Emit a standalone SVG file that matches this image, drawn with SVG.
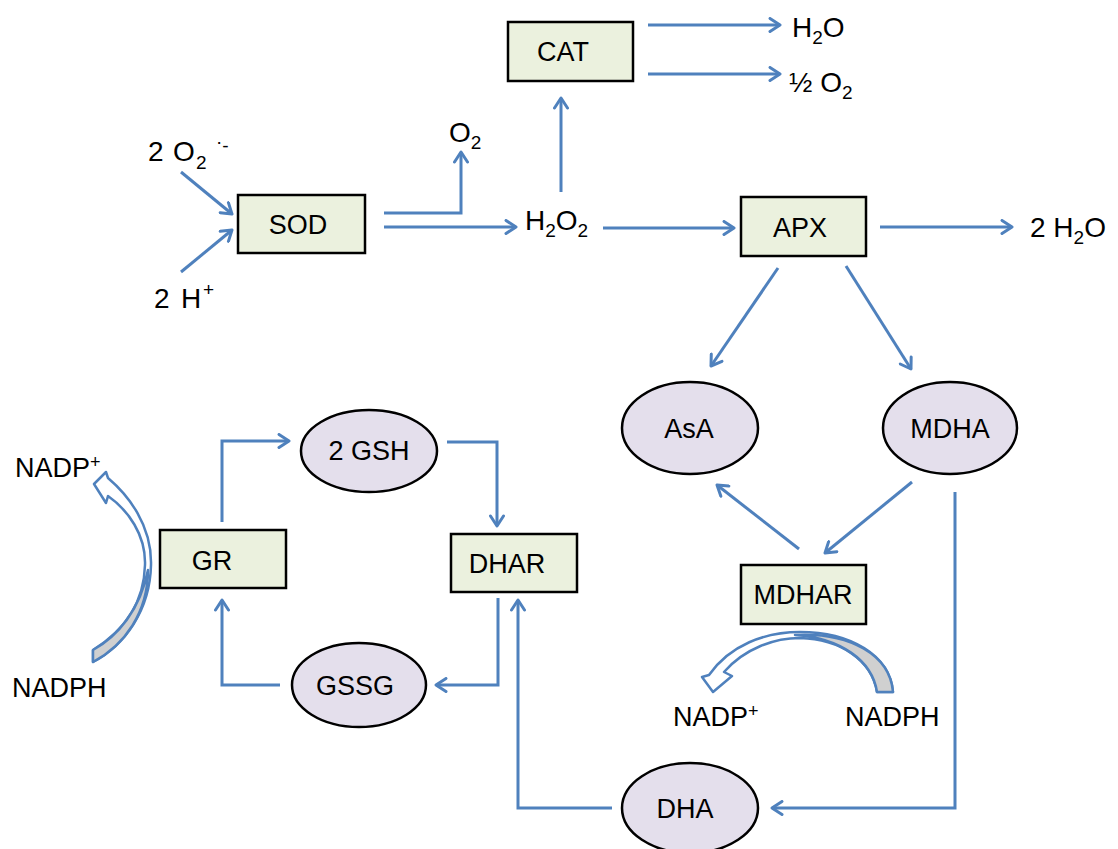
<svg xmlns="http://www.w3.org/2000/svg" width="1118" height="849" viewBox="0 0 1118 849">
<defs>
<style>
.box{fill:#ebf1de;stroke:#000;stroke-width:2.5}
.ell{fill:#e4dfec;stroke:#000;stroke-width:2.5}
.nl{font-family:"Liberation Sans",Arial,sans-serif;font-size:27px;fill:#000;text-anchor:middle}
.lb{font-family:"Liberation Sans",Arial,sans-serif;font-size:28px;fill:#000}
.nad{font-family:"Liberation Sans",Arial,sans-serif;font-size:27px;fill:#000}
.c{fill:none;stroke:#4f81bd;stroke-width:3;marker-end:url(#ah)}
.cv{fill:#fff;stroke:#4f81bd;stroke-width:2.5;stroke-linejoin:round}
.cg{fill:#d0d0d0;stroke:#4f81bd;stroke-width:2.5;stroke-linejoin:round}
</style>
<marker id="ah" viewBox="-12 -8 14 16" refX="0" refY="0" markerWidth="14" markerHeight="16" markerUnits="userSpaceOnUse" orient="auto">
<path d="M-10,-6.5 L0,0 L-10,6.5" fill="none" stroke="#4f81bd" stroke-width="3" stroke-linecap="round" stroke-linejoin="round"/>
</marker>
</defs>
<rect width="1118" height="849" fill="#fff"/>

<g id="connectors">
<path class="c" d="M181,172 L232,214"/>
<path class="c" d="M181,272 L232,230"/>
<path class="c" d="M384,213 L461,213 L461,152"/>
<path class="c" d="M384,227 L516,227"/>
<path class="c" d="M561,192 L561,98"/>
<path class="c" d="M648,25 L780,25"/>
<path class="c" d="M648,74 L780,74"/>
<path class="c" d="M603,228 L734,228"/>
<path class="c" d="M880,227 L1012,227"/>
<path class="c" d="M778,268 L711,366"/>
<path class="c" d="M846,266 L911,369"/>
<path class="c" d="M799,549 L717,485"/>
<path class="c" d="M912,482 L825,553"/>
<path class="c" d="M955,492 L955,808 L772,808"/>
<path class="c" d="M612,808 L518,808 L518,600"/>
<path class="c" d="M498,598 L498,685 L436,685"/>
<path class="c" d="M280,685 L222,685 L222,600"/>
<path class="c" d="M222,522 L222,441 L289,441"/>
<path class="c" d="M447,442 L497,442 L497,526"/>
</g>

<g id="gr-cofactor-arrow">
<path class="cv" d="M94,484 L106,472 L108,478 C128,495 152,525 151,565 C150,610 125,645 93,662 L93,650 C122,632 144,605 145,565 C146,535 128,510 108,496 L106,503 Z"/>
<path class="cg" d="M93,650 C118,636 140,610 148,570 C148,612 125,645 93,662 Z"/>
</g>

<g id="mdhar-cofactor-arrow">
<path class="cv" d="M702,677 L713,692 L732,676 L724,672 C745,648 775,638 800,638 C840,639 872,660 877,692 L893,692 C890,655 850,632 800,632 C765,632 730,645 709,675 Z"/>
<path class="cg" d="M795,635 C840,638 872,660 877,692 L893,692 C890,655 850,632 795,635 Z"/>
</g>

<g id="CAT"><rect class="box" x="508" y="22" width="125" height="59"/><text class="nl" x="563" y="61">CAT</text></g>
<g id="SOD"><rect class="box" x="238" y="195" width="127" height="58"/><text class="nl" x="298" y="234">SOD</text></g>
<g id="APX"><rect class="box" x="741" y="197" width="125" height="59"/><text class="nl" x="800" y="237">APX</text></g>
<g id="GR"><rect class="box" x="160" y="530" width="126" height="58"/><text class="nl" x="212" y="570">GR</text></g>
<g id="DHAR"><rect class="box" x="451" y="534" width="126" height="58"/><text class="nl" x="507" y="573">DHAR</text></g>
<g id="MDHAR"><rect class="box" x="741" y="565" width="125" height="59"/><text class="nl" x="803" y="604">MDHAR</text></g>

<g id="GSH"><ellipse class="ell" cx="369" cy="451" rx="68" ry="41"/><text class="nl" x="369" y="460">2 GSH</text></g>
<g id="GSSG"><ellipse class="ell" cx="359" cy="685" rx="67" ry="42"/><text class="nl" x="355" y="695">GSSG</text></g>
<g id="AsA"><ellipse class="ell" cx="690" cy="428" rx="68" ry="46"/><text class="nl" x="689" y="438">AsA</text></g>
<g id="MDHA"><ellipse class="ell" cx="950" cy="428" rx="67" ry="46"/><text class="nl" x="950" y="438">MDHA</text></g>
<g id="DHA"><ellipse class="ell" cx="690" cy="808" rx="68" ry="45"/><text class="nl" x="685" y="818">DHA</text></g>

<g id="superoxide"><text class="lb" x="148" y="161">2 <tspan x="173">O</tspan><tspan x="196" y="169" font-size="19">2</tspan><tspan x="216" y="148" font-size="19">·</tspan><tspan y="152" font-size="19">-</tspan></text></g>
<g id="protons"><text class="lb" x="154" y="308">2 <tspan x="181">H</tspan><tspan x="203" y="296" font-size="19">+</tspan></text></g>
<g id="O2"><text class="lb" x="449" y="142">O<tspan font-size="19" dy="7">2</tspan></text></g>
<g id="H2O2"><text class="lb" x="525" y="230">H<tspan font-size="19" dy="7">2</tspan><tspan dy="-7">O</tspan><tspan font-size="19" dy="7">2</tspan></text></g>
<g id="H2O"><text class="lb" x="792" y="37">H<tspan font-size="19" dy="7">2</tspan><tspan dy="-7">O</tspan></text></g>
<g id="halfO2"><text class="lb" x="789" y="92">½ O<tspan font-size="19" dy="7">2</tspan></text></g>
<g id="twoH2O"><text class="lb" x="1030" y="237">2 H<tspan font-size="19" dy="7">2</tspan><tspan dy="-7">O</tspan></text></g>
<g id="NADPplus-left"><text class="nad" x="15" y="477">NADP<tspan font-size="18" dy="-9">+</tspan></text></g>
<g id="NADPH-left"><text class="nad" x="12" y="697">NADPH</text></g>
<g id="NADPplus-right"><text class="nad" x="673" y="726">NADP<tspan font-size="18" dy="-9">+</tspan></text></g>
<g id="NADPH-right"><text class="nad" x="845" y="726">NADPH</text></g>
</svg>
